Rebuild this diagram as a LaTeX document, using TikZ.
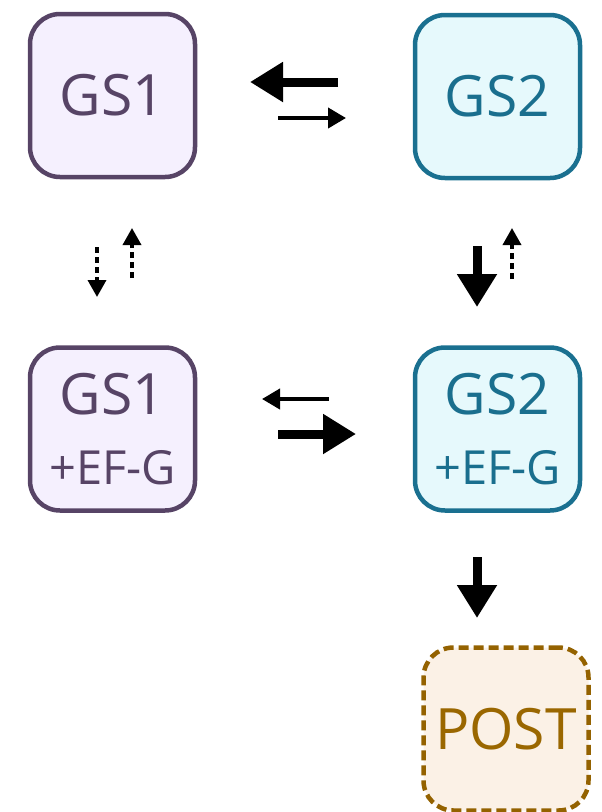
\documentclass[tikz,border=0pt]{standalone}
\usepackage{fontspec}
\setmainfont{Open Sans}
\usetikzlibrary{arrows.meta}
\definecolor{gsonefill}{HTML}{F5F0FE}
\definecolor{gsoneline}{HTML}{574466}
\definecolor{gsonetext}{HTML}{574466}
\definecolor{gstwofill}{HTML}{E6F9FC}
\definecolor{gstwoline}{HTML}{1A7090}
\definecolor{gstwotext}{HTML}{1A6F8E}
\definecolor{postfill}{HTML}{FBF1E6}
\definecolor{postline}{HTML}{946200}
\definecolor{posttext}{HTML}{9A6700}
\newcommand{\bigtxt}{\fontsize{57pt}{64pt}\selectfont}
\newcommand{\smtxt}{\fontsize{47pt}{54pt}\selectfont}
\tikzset{
  box/.style={rounded corners=30pt, minimum width=165pt, minimum height=163pt,
    line width=4.5pt, inner sep=0pt, align=center},
  gsonebox/.style={box, draw=gsoneline, fill=gsonefill, text=gsonetext},
  gstwobox/.style={box, draw=gstwoline, fill=gstwofill, text=gstwotext},
  postbox/.style={box, draw=postline, fill=postfill, text=posttext, dash pattern=on 10pt off 5pt},
  thickarr/.style={line width=9pt, -{Triangle[length=33pt,width=38pt]}},
  thinarr/.style={line width=4pt, -{Triangle[length=18pt,width=20pt]}},
  dasharr/.style={line width=3.5pt, dash pattern=on 6pt off 4pt, -{Triangle[length=17pt,width=18pt]}}
}
\begin{document}
\begin{tikzpicture}[x=1pt,y=-1pt]
\useasboundingbox (0,0) rectangle (602,812);
\node[gsonebox] (gs1) at (112.5,95.5) {\bigtxt GS1};
\node[gstwobox] (gs2) at (497.5,96.5) {\bigtxt GS2};
\node[gsonebox] (gs1e) at (112.5,429) {\bigtxt GS1\\[34pt]\smtxt +EF-G};
\node[gstwobox] (gs2e) at (497.5,429) {\bigtxt GS2\\[34pt]\smtxt +EF-G};
\node[postbox] (post) at (506,729) {\bigtxt POST};
% arrow end points
\coordinate (t1a) at (338,82);  \coordinate (t1b) at (250,82);
\coordinate (t2a) at (278,118); \coordinate (t2b) at (346,118);
\coordinate (m1a) at (329,399); \coordinate (m1b) at (262,399);
\coordinate (m2a) at (278,434); \coordinate (m2b) at (356,434);
\coordinate (l1a) at (97,247);  \coordinate (l1b) at (97,297);
\coordinate (l2a) at (132,278); \coordinate (l2b) at (132,228);
\coordinate (r1a) at (477,246); \coordinate (r1b) at (477,307);
\coordinate (r2a) at (512,279); \coordinate (r2b) at (512,228);
\coordinate (b1a) at (477,557); \coordinate (b1b) at (477,618);
\draw[thickarr] (t1a) -- (t1b);
\draw[thinarr] (t2a) -- (t2b);
\draw[thinarr] (m1a) -- (m1b);
\draw[thickarr] (m2a) -- (m2b);
\draw[dasharr] (l1a) -- (l1b);
\draw[dasharr] (l2a) -- (l2b);
\draw[thickarr] (r1a) -- (r1b);
\draw[dasharr] (r2a) -- (r2b);
\draw[thickarr] (b1a) -- (b1b);
\end{tikzpicture}
\end{document}
